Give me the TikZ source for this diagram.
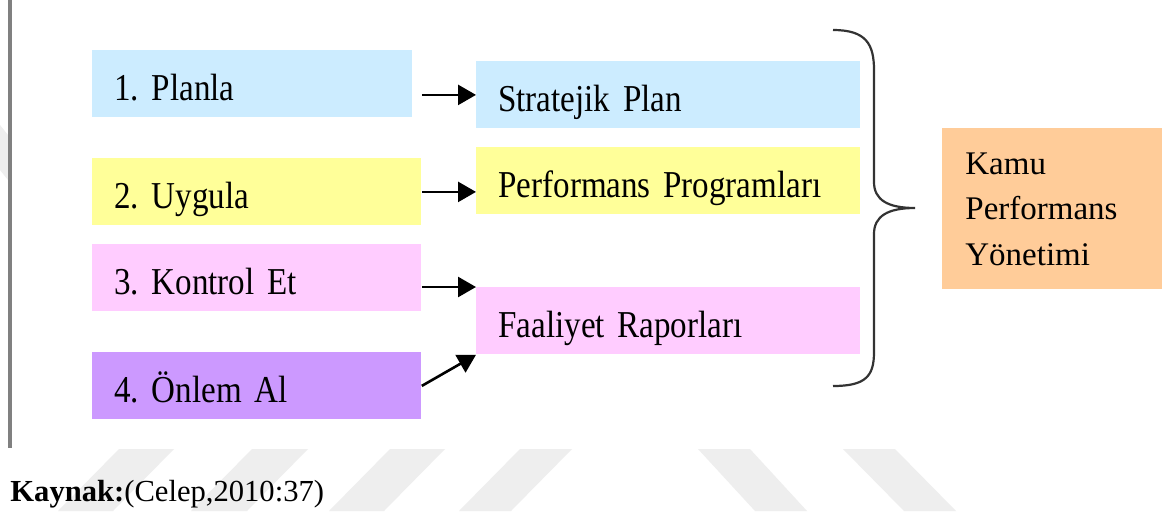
\documentclass[tikz,border=0pt]{standalone}
\usepackage{fontspec}
\setmainfont{Liberation Serif}
\newfontfamily\boxfont{Liberation Serif}[FakeStretch=0.87]
\DeclareRobustCommand\boxtext{\boxfont\fontsize{19}{22}\selectfont
  \frenchspacing\spaceskip=3.8pt\relax}
\usetikzlibrary{positioning,arrows.meta}
\definecolor{cPlan} {RGB}{204,236,255}
\definecolor{cDo}   {RGB}{255,255,153}
\definecolor{cCheck}{RGB}{255,204,255}
\definecolor{cAct}  {RGB}{204,153,255}
\definecolor{cKamu} {RGB}{255,204,153}
\definecolor{cMark} {RGB}{238,238,238}
\tikzset{
  stage/.style = {anchor=north west, inner xsep=11pt, inner ysep=0pt,
                  text height=25pt, text depth=8.5pt, align=left,
                  font=\boxtext},
  lbox/.style  = {stage, text width=142.5pt},
  rbox/.style  = {stage, text width=170pt},
  goal/.style  = {anchor=north west, fill=cKamu, minimum width=110pt,
                  minimum height=80.5pt, text width=87pt, inner xsep=11.5pt,
                  inner ysep=0pt, align=left,
                  font=\fontsize{16.5}{22.75}\selectfont},
  flow/.style  = {-{Triangle[length=9pt,width=10pt]}, black, line width=1.3pt},
  brace/.style = {black!80, line width=1.1pt},
  wmark/.style = {fill=cMark},
}

\begin{document}
\begin{tikzpicture}[x=0.5pt, y=-0.5pt]
  \useasboundingbox[fill=white] (0,0) rectangle (1164,516);

  % ---- watermark stripes --------------------------------------------
  \foreach \a/\b/\c/\d in {119/174/113/58, 252/308/247/191, 390/445/384/329,
                           520/572/511/459, 698/750/807/755, 843/895/956/904}
    \fill[wmark] (\a,449) -- (\b,449) -- (\c,511) -- (\d,511) -- cycle;
  \fill[wmark] (0,125) -- (8,135) -- (8,180) -- (0,170) -- cycle;

  \draw[black!50, line width=1.8pt] (10,0) -- (10,448);

  % ---- cycle steps ----------------------------------------------------
  \node[lbox, fill=cPlan, text width=138pt] (plan) at (92,50) {1. Planla};
  \node[lbox, fill=cDo]    (do)    at (92,158) {2. Uygula};
  \node[lbox, fill=cCheck] (check) at (92,244) {3. Kontrol Et};
  \node[lbox, fill=cAct]   (act)   at (92,352) {4. Önlem Al};

  % ---- documents ------------------------------------------------------
  \node[rbox, fill=cPlan]  (strat) at (476,61)  {Stratejik Plan};
  \node[rbox, fill=cDo]    (prog)  at (476,147) {Performans Programları};
  \node[rbox, fill=cCheck] (rep)   at (476,287) {Faaliyet Raporları};

  \node[goal] (kpy) at (942,128) {Kamu\\Performans\\Yönetimi};

  \draw[flow] (do.east |- strat.west) -- (strat.west);
  \draw[flow] (do.east) -- (do.east -| prog.west);
  \draw[flow] (check.east |- rep.north west) -- (rep.north west);
  \draw[flow] (act.east) -- (rep.south west);

  % ---- brace ----------------------------------------------------------
  \draw[brace] (833,30) .. controls (866,30) and (874,44) .. (874,70)
    -- (874,182) .. controls (874,200) and (888,208) .. (915,208)
    .. controls (888,208) and (874,216) .. (874,234)
    -- (874,352) .. controls (874,376) and (866,386) .. (833,386);

  \node[anchor=base west, inner sep=0pt, font=\fontsize{15.3}{18}\selectfont]
    (src) at (10,501) {\textbf{Kaynak:}(Celep,2010:37)};

\end{tikzpicture}
\end{document}
